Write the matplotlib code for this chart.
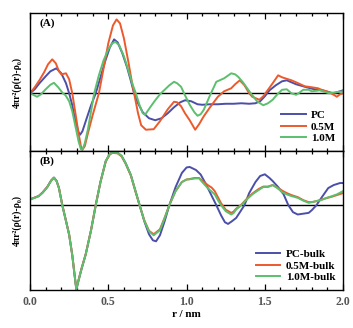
import matplotlib.pyplot as plt
from matplotlib.ticker import MultipleLocator

plt.rcParams['font.family'] = ['Liberation Serif', 'DejaVu Serif']
plt.rcParams['font.weight'] = 'bold'

# ---- panel A: excess density around the cluster ----
r_pc = [0.0, 0.03, 0.06, 0.10, 0.13, 0.168, 0.20, 0.23, 0.25, 0.27, 0.29, 0.31, 0.32, 0.335,
        0.36, 0.39, 0.42, 0.45, 0.48, 0.51, 0.537, 0.56, 0.59, 0.62, 0.645, 0.665, 0.69, 0.72,
        0.76, 0.80, 0.84, 0.88, 0.92, 0.96, 0.99, 1.03, 1.07, 1.10, 1.15, 1.20, 1.25, 1.30,
        1.35, 1.40, 1.44, 1.47, 1.50, 1.53, 1.57, 1.61, 1.64, 1.67, 1.70, 1.745, 1.79, 1.83,
        1.87, 1.90, 1.94, 1.97, 2.0]
g_pc = [0.0, 0.4, 1.0, 1.7, 2.2, 2.5, 2.0, 1.0, 0.0, -1.2, -2.8, -3.9, -4.15, -3.8,
        -2.6, -1.2, 0.0, 1.6, 3.2, 4.6, 5.4, 5.1, 4.0, 2.6, 1.2, 0.0, -1.0, -1.9,
        -2.5, -2.7, -2.5, -2.0, -1.4, -0.9, -0.7, -0.8, -1.1, -1.15, -1.1, -1.1, -1.05, -1.05,
        -1.0, -1.05, -1.0, -0.8, -0.3, 0.3, 0.8, 1.2, 1.3, 1.1, 0.9, 0.7, 0.5, 0.35,
        0.3, 0.15, 0.0, 0.15, 0.3]

r_05 = [0.0, 0.03, 0.06, 0.09, 0.115, 0.142, 0.165, 0.185, 0.20, 0.23, 0.25, 0.27, 0.29, 0.31,
        0.325, 0.335, 0.35, 0.37, 0.40, 0.44, 0.47, 0.50, 0.53, 0.553, 0.575, 0.60, 0.63,
        0.65, 0.665, 0.69, 0.71, 0.74, 0.79, 0.83, 0.88, 0.92, 0.94, 0.965, 0.99, 1.02, 1.055,
        1.08, 1.11, 1.15, 1.20, 1.24, 1.285, 1.31, 1.34, 1.37, 1.40, 1.42, 1.465, 1.49, 1.52,
        1.55, 1.585, 1.61, 1.63, 1.67, 1.70, 1.755, 1.80, 1.84, 1.87, 1.905, 1.94, 1.96,
        1.98, 2.0]
g_05 = [0.0, 0.6, 1.3, 2.1, 2.9, 3.4, 3.0, 2.2, 1.9, 2.0, 1.4, 0.0, -2.0, -4.0,
        -5.3, -5.65, -5.3, -4.0, -2.2, 0.0, 2.5, 5.0, 6.8, 7.4, 7.0, 5.5, 3.0,
        1.2, 0.0, -2.0, -3.2, -3.65, -3.6, -2.8, -1.6, -0.85, -0.9, -1.3, -2.0, -2.7, -3.65,
        -3.1, -2.3, -1.4, -0.35, 0.2, 0.5, 0.9, 1.3, 0.8, 0.0, -0.35, -0.65, -0.3, 0.35,
        1.0, 1.8, 1.6, 1.5, 1.3, 1.1, 0.7, 0.6, 0.5, 0.3, 0.15, -0.15, -0.35,
        -0.1, 0.0]

r_10 = [0.0, 0.02, 0.045, 0.07, 0.10, 0.13, 0.153, 0.18, 0.21, 0.227, 0.25, 0.27, 0.29, 0.31,
        0.325, 0.335, 0.35, 0.37, 0.39, 0.41, 0.44, 0.47, 0.50, 0.525, 0.545, 0.57, 0.60,
        0.63, 0.655, 0.676, 0.70, 0.72, 0.735, 0.77, 0.80, 0.83, 0.86, 0.89, 0.92, 0.94,
        0.965, 0.99, 1.02, 1.05, 1.07, 1.09, 1.11, 1.15, 1.19, 1.24, 1.285, 1.31, 1.33, 1.36,
        1.41, 1.45, 1.49, 1.52, 1.55, 1.58, 1.61, 1.64, 1.67, 1.70, 1.72, 1.745, 1.78, 1.80,
        1.83, 1.85, 1.88, 1.91, 1.95, 2.0]
g_10 = [0.0, -0.15, -0.35, -0.1, 0.4, 0.85, 1.05, 0.6, 0.0, -0.2, -0.8, -1.8, -3.3, -4.8,
        -5.6, -5.65, -5.0, -3.6, -1.8, 0.0, 1.8, 3.3, 4.4, 5.0, 5.15, 4.8, 3.7,
        2.2, 0.9, 0.0, -1.2, -2.0, -2.15, -1.35, -0.7, -0.1, 0.35, 0.8, 1.15, 1.0,
        0.65, -0.2, -1.15, -1.9, -2.25, -2.1, -1.65, -0.2, 1.15, 1.5, 2.0, 1.9, 1.65, 1.1,
        0.0, -0.8, -1.2, -1.0, -0.65, -0.1, 0.35, 0.4, 0.0, -0.15, 0.05, 0.35, 0.35, 0.2,
        0.25, 0.3, 0.15, 0.0, 0.1, 0.2]

# ---- panel B: bulk ----
r_pcb = [0.0, 0.03, 0.056, 0.08, 0.11, 0.135, 0.153, 0.17, 0.185, 0.206, 0.23, 0.25, 0.27,
         0.285, 0.296, 0.31, 0.33, 0.356, 0.39, 0.42, 0.45, 0.484, 0.51, 0.527, 0.56, 0.585,
         0.61, 0.644, 0.67, 0.70, 0.73, 0.76, 0.785, 0.805, 0.83, 0.86, 0.89, 0.93, 0.97,
         1.00, 1.02, 1.06, 1.09, 1.12, 1.155, 1.19, 1.22, 1.245, 1.265, 1.29, 1.317, 1.345,
         1.37, 1.40, 1.44, 1.47, 1.50, 1.53, 1.55, 1.585, 1.62, 1.65, 1.68, 1.71, 1.745,
         1.78, 1.80, 1.83, 1.86, 1.905, 1.94, 1.98, 2.0]
g_pcb = [0.57, 0.75, 0.9, 1.25, 1.8, 2.45, 2.75, 2.4, 1.7, 0.0, -1.6, -2.95, -5.0,
         -7.0, -8.4, -7.5, -6.3, -4.9, -2.5, 0.0, 2.3, 4.4, 5.1, 5.25, 5.2, 4.9,
         4.2, 3.0, 1.6, 0.0, -1.6, -2.9, -3.5, -3.6, -3.0, -1.6, 0.0, 1.8, 3.2,
         3.75, 3.8, 3.5, 3.05, 2.2, 1.1, 0.0, -1.0, -1.7, -1.87, -1.6, -1.27, -0.6,
         0.0, 1.2, 2.3, 2.9, 3.07, 2.7, 2.4, 1.8, 1.07, 0.0, -0.7, -0.93, -0.85,
         -0.77, -0.5, 0.0, 0.7, 1.7, 2.0, 2.2, 2.2]

r_05b = [0.0, 0.03, 0.056, 0.08, 0.11, 0.135, 0.153, 0.17, 0.185, 0.206, 0.23, 0.25, 0.27,
         0.285, 0.296, 0.31, 0.33, 0.356, 0.39, 0.42, 0.45, 0.484, 0.51, 0.527, 0.56, 0.585,
         0.61, 0.644, 0.67, 0.70, 0.73, 0.76, 0.79, 0.83, 0.86, 0.89, 0.93, 0.97, 1.00, 1.02,
         1.05, 1.08, 1.10, 1.135, 1.16, 1.18, 1.20, 1.22, 1.25, 1.285, 1.30, 1.317, 1.35,
         1.38, 1.42, 1.46, 1.49, 1.52, 1.55, 1.58, 1.61, 1.64, 1.67, 1.71, 1.745, 1.78,
         1.80, 1.83, 1.86, 1.895, 1.93, 1.96, 2.0]
g_05b = [0.6, 0.75, 0.92, 1.25, 1.8, 2.45, 2.72, 2.4, 1.7, 0.05, -1.55, -2.9, -4.95,
         -6.95, -8.35, -7.45, -6.25, -4.85, -2.45, 0.05, 2.3, 4.35, 5.05, 5.2, 5.15, 4.85,
         4.15, 2.95, 1.55, 0.0, -1.5, -2.55, -2.9, -2.4, -1.25, 0.0, 1.4, 2.3, 2.55, 2.6,
         2.7, 2.7, 2.45, 2.0, 1.75, 1.4, 0.8, 0.2, -0.45, -0.77, -0.65, -0.35, 0.05,
         0.55, 1.15, 1.6, 1.85, 1.85, 2.0, 1.75, 1.45, 1.2, 1.0, 0.8, 0.5, 0.3,
         0.3, 0.4, 0.55, 0.7, 0.85, 1.0, 1.2]

r_10b = [0.0, 0.03, 0.056, 0.08, 0.11, 0.135, 0.153, 0.17, 0.185, 0.206, 0.23, 0.25, 0.27,
         0.285, 0.296, 0.31, 0.33, 0.356, 0.39, 0.42, 0.45, 0.484, 0.51, 0.527, 0.56, 0.585,
         0.61, 0.644, 0.67, 0.70, 0.73, 0.76, 0.79, 0.83, 0.86, 0.89, 0.93, 0.97, 1.00, 1.02,
         1.05, 1.08, 1.10, 1.135, 1.16, 1.18, 1.20, 1.22, 1.25, 1.285, 1.30, 1.317, 1.35,
         1.38, 1.42, 1.46, 1.49, 1.52, 1.55, 1.58, 1.61, 1.64, 1.67, 1.71, 1.745, 1.78,
         1.80, 1.83, 1.86, 1.895, 1.93, 1.96, 2.0]
g_10b = [0.55, 0.73, 0.9, 1.22, 1.78, 2.42, 2.72, 2.38, 1.68, 0.0, -1.6, -2.95, -5.0,
         -7.0, -8.4, -7.5, -6.3, -4.9, -2.5, 0.0, 2.3, 4.4, 5.1, 5.25, 5.2, 4.9,
         4.2, 3.0, 1.6, 0.0, -1.55, -2.6, -3.0, -2.5, -1.3, 0.0, 1.4, 2.3, 2.55, 2.57,
         2.65, 2.67, 2.3, 1.7, 1.35, 1.07, 0.5, 0.0, -0.6, -0.93, -0.8, -0.43, 0.0,
         0.5, 1.07, 1.5, 1.8, 1.8, 2.0, 1.7, 1.3, 1.07, 0.9, 0.73, 0.45, 0.23,
         0.3, 0.4, 0.5, 0.73, 0.9, 1.07, 1.4]

c_pc = '#4b4fa8'
c_05 = '#ec5a2c'
c_10 = '#5cbf6e'
lw = 1.4

fig = plt.figure(figsize=(3.53, 3.28), dpi=100)
axA = fig.add_axes([0.085, 0.540, 0.887, 0.420])
axB = fig.add_axes([0.085, 0.116, 0.887, 0.424])

axA.plot(r_pc, g_pc, color=c_pc, lw=lw, label='PC')
axA.plot(r_05, g_05, color=c_05, lw=lw, label='0.5M')
axA.plot(r_10, g_10, color=c_10, lw=lw, label='1.0M')
axA.set_ylim(-5.77, 8.03)

axB.plot(r_pcb, g_pcb, color=c_pc, lw=lw, label='PC-bulk')
axB.plot(r_05b, g_05b, color=c_05, lw=lw, label='0.5M-bulk')
axB.plot(r_10b, g_10b, color=c_10, lw=lw, label='1.0M-bulk')
axB.set_ylim(-8.44, 5.4)

ylab = '4\u03c0r\u00b2(\u03c1(r)-\u03c1\u2080)'

for ax, tag in [(axA, '(A)'), (axB, '(B)')]:
    ax.axhline(0, color='black', lw=1.0, zorder=0)
    ax.set_xlim(0, 2.0)
    ax.xaxis.set_major_locator(MultipleLocator(0.5))
    ax.xaxis.set_minor_locator(MultipleLocator(0.1))
    ax.tick_params(axis='x', which='both', direction='in', top=True, bottom=True)
    ax.tick_params(axis='x', which='major', length=4, width=0.9)
    ax.tick_params(axis='x', which='minor', length=2.5, width=0.9)
    ax.set_yticks([])
    for s in ax.spines.values():
        s.set_linewidth(1.0)
    ax.text(0.03, 0.91, tag, transform=ax.transAxes, fontsize=8, fontweight='bold')
    ax.set_ylabel(ylab, fontsize=7, fontweight='bold', labelpad=6)
    ax.legend(loc='lower right', frameon=False, fontsize=8, handlelength=2.2,
              handletextpad=0.5, labelspacing=0.15, borderaxespad=0.3)

axA.tick_params(axis='x', labelbottom=False)
axB.tick_params(axis='x', labelsize=8.5, labelcolor='#555555', pad=4)
axB.set_xlabel('r / nm', fontsize=8, fontweight='bold', labelpad=2)

fig.savefig('out.png', dpi=100)
